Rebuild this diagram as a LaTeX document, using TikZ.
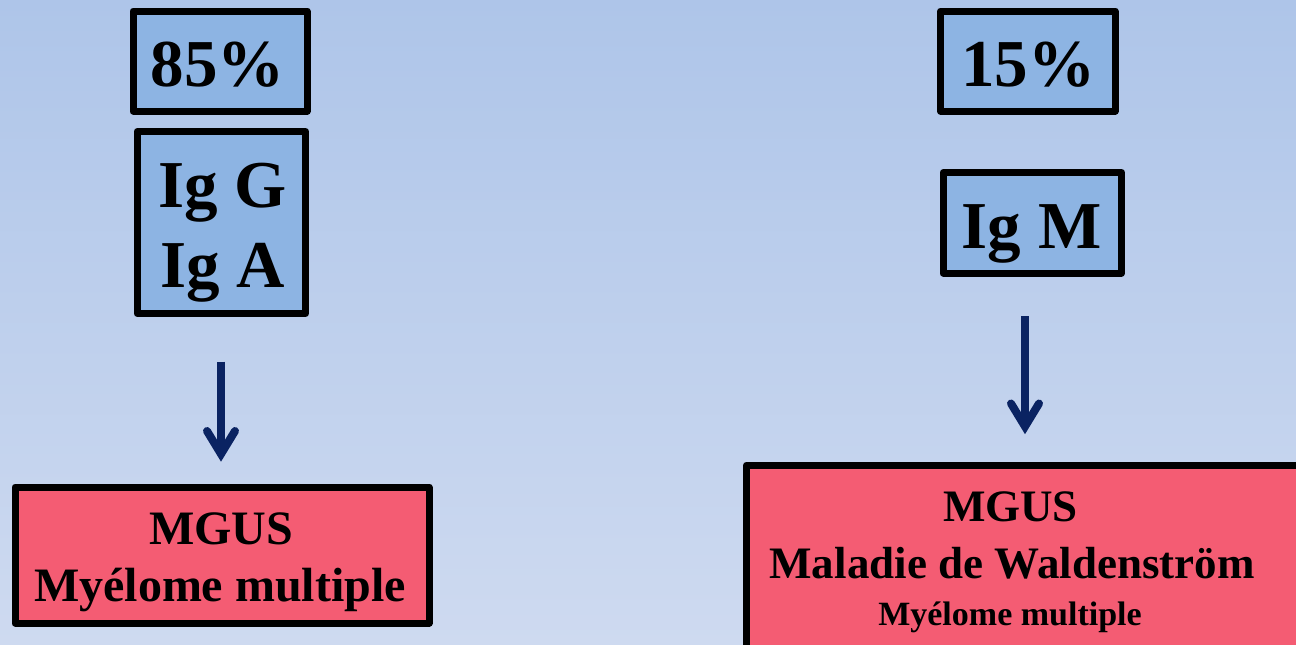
\documentclass[tikz,border=0pt]{standalone}
\usepackage{fontspec}
\setmainfont{Liberation Serif}
\usetikzlibrary{arrows.meta,calc}
\definecolor{bgtop}{HTML}{AEC5E9}
\definecolor{bgbot}{HTML}{CEDAF0}
\definecolor{boxblue}{HTML}{8DB4E3}
\definecolor{boxpink}{HTML}{F45C73}
\definecolor{navy}{HTML}{0A2362}
\begin{document}
\begin{tikzpicture}[x=1pt,y=-1pt,
  bluebox/.style={draw=black,fill=boxblue,line width=7pt,line join=round,inner sep=0pt},
  pinkbox/.style={draw=black,fill=boxpink,line width=7pt,line join=round,inner sep=0pt},
  lbl/.style={anchor=base,inner sep=0pt,text=black,font=\bfseries},
  big/.style={lbl,font=\bfseries\fontsize{67}{80}\selectfont},
  mid/.style={lbl,font=\bfseries\fontsize{48}{58}\selectfont},
  shaft/.style={draw=navy,line width=8pt},
  barb/.style={draw=navy,line width=8pt,line cap=round,line join=miter}
]
\useasboundingbox (0,0) rectangle (1296,645);
\clip (0,0) rectangle (1296,645);
\shade[top color=bgtop,bottom color=bgbot] (0,0) rectangle (1296,645);

% left column
\node[bluebox,minimum width=174pt,minimum height=100pt] (p85) at (220,61) {};
\node[big] (t85) at (217.5,86) {85\%};
\node[bluebox,minimum width=168.5pt,minimum height=182pt] (igga) at (221.25,222.5) {};
\node[big] (tigg) at (222.5,207) {Ig G};
\node[big] (tiga) at (222.5,287) {Ig A};
\node[pinkbox,minimum width=414pt,minimum height=136pt] (mgl) at (222,555) {};
\node[mid] (tmgl) at (221,544) {MGUS};
\node[mid] (tmyl) at (220,601.7) {Myélome multiple};

% right column
\node[bluebox,minimum width=174.5pt,minimum height=100pt] (p15) at (1027.75,61) {};
\node[big] (t15) at (1028,86) {15\%};
\node[bluebox,minimum width=178.5pt,minimum height=100.5pt] (igm) at (1032.25,222.75) {};
\node[big] (tigm) at (1031.5,248) {Ig M};
\node[pinkbox,minimum width=573.5pt,minimum height=185pt] (mgr) at (1033.25,557.5) {};
\node[lbl,font=\bfseries\fontsize{45}{54}\selectfont] (tmgr) at (1010.5,521.7) {MGUS};
\node[lbl,font=\bfseries\fontsize{45}{54}\selectfont] (twal) at (1012,578) {Maladie de Waldenström};
\node[lbl,font=\bfseries\fontsize{34}{40}\selectfont] (tmyr) at (1010,625) {Myélome multiple};

% arrows
\coordinate (a1s) at ($(igga.south)+(-0.25,44.5)$);
\coordinate (a1e) at ($(mgl.north)+(-1,-29.5)$);
\draw[shaft] (a1s) -- ($(a1e)+(0,-2)$);
\draw[barb] ($(a1e)+(-14,-23)$) -- (a1e) -- ($(a1e)+(14,-23)$);
\coordinate (a2s) at ($(igm.south)+(-7.25,39.7)$);
\coordinate (a2e) at ($(a2s)+(0,110.3)$);
\draw[shaft] (a2s) -- ($(a2e)+(0,-2)$);
\draw[barb] ($(a2e)+(-14,-23)$) -- (a2e) -- ($(a2e)+(14,-23)$);
\end{tikzpicture}
\end{document}
